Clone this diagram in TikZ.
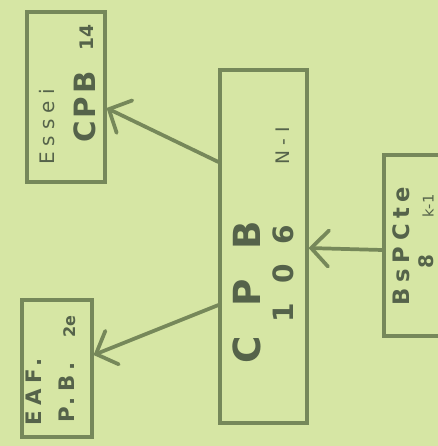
\documentclass[tikz,border=0pt]{standalone}
\usepackage{fontspec}
\setmainfont{DejaVu Sans}
\usetikzlibrary{arrows.meta}
\definecolor{paper}{HTML}{D6E6A4}
\definecolor{ink}{HTML}{76885A}
\definecolor{pen}{HTML}{55634A}
\tikzset{
  box/.style={draw=ink, line width=2.3pt, inner sep=0pt, rectangle},
  link/.style={draw=ink, line width=2.8pt, line cap=round,
    -{Straight Barb[length=13pt,width=27pt,line cap=round]}},
  hand/.style={text=pen, rotate=90, inner sep=0pt},
}
\begin{document}
\begin{tikzpicture}[x=0.75pt,y=-0.75pt]
\fill[paper] (0,0) rectangle (438,446);
\useasboundingbox (0,0) rectangle (438,446);
% boxes
\node[box, minimum width=58.5pt, minimum height=127.5pt] (A) at (66,97) {};
\node[box, minimum width=65.25pt, minimum height=264.75pt] (C) at (263.5,246.5) {};
\node[box, minimum width=64.5pt, minimum height=135.75pt] (D) at (427,245.5) {};
\node[box, minimum width=52.5pt, minimum height=102.75pt] (B) at (57,368.5) {};
% texts
\node[hand, font=\fontsize{15}{15}\selectfont\addfontfeature{LetterSpace=30}] (a1) at (47,127) {Essei};
\node[hand, font=\bfseries\fontsize{22}{22}\selectfont\addfontfeature{LetterSpace=10}] (a2) at (85,107) {CPB};
\node[hand, font=\bfseries\fontsize{14}{14}\selectfont] (a3) at (87,38) {14};
\node[hand, font=\bfseries\fontsize{28}{28}\selectfont\addfontfeature{LetterSpace=80}] (c1) at (247,292) {CPB};
\node[hand, font=\bfseries\fontsize{21}{21}\selectfont\addfontfeature{LetterSpace=70}] (c2) at (283,274) {106};
\node[hand, font=\fontsize{14}{14}\selectfont\addfontfeature{LetterSpace=30}] (c3) at (283,146) {N-I};
\node[hand, font=\bfseries\fontsize{17}{17}\selectfont\addfontfeature{LetterSpace=25}] (d1) at (401,246) {BsPCte};
\node[hand, font=\fontsize{11}{11}\selectfont] (d2) at (428,206) {k-1};
\node[hand, font=\bfseries\fontsize{15}{15}\selectfont] (d3) at (426,262) {8};
\node[hand, font=\bfseries\fontsize{16}{16}\selectfont\addfontfeature{LetterSpace=25}] (b1) at (34,392) {EAF.};
\node[hand, font=\bfseries\fontsize{16}{16}\selectfont\addfontfeature{LetterSpace=25}] (b2) at (67,392) {P.B.};
\node[hand, font=\bfseries\fontsize{12}{12}\selectfont] (b3) at (70,327) {2e};
% connector heights
\coordinate (yA1) at (0,162);
\coordinate (yA2) at (0,108);
\coordinate (yB1) at (0,305);
\coordinate (yB2) at (0,355);
\coordinate (yD1) at (0,250);
\coordinate (yD2) at (0,248);
\draw[link] (C.west |- yA1) -- (A.east |- yA2);
\draw[link] (C.west |- yB1) -- (B.east |- yB2);
\draw[link] (D.west |- yD1) -- (C.east |- yD2);
\end{tikzpicture}
\end{document}
